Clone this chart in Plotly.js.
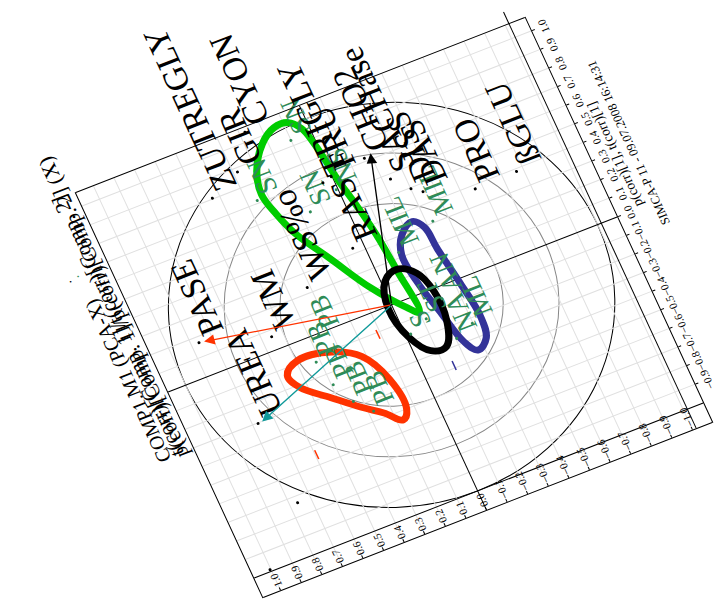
<!DOCTYPE html>
<html>
<head>
<meta charset="utf-8">
<script src="https://cdn.plot.ly/plotly-3.0.1.min.js"></script>
<style>
html,body{margin:0;padding:0;background:#fff;width:727px;height:601px;overflow:hidden;}
#plot{position:absolute;left:0;top:0;width:800px;height:672px;transform-origin:0 0;
transform:matrix(-0.4202,-0.9079,0.9315,-0.3631,203.47,705.94);}
</style>
</head>
<body>
<div id="plot"></div>
<script>
// variables p(corr) (black labels)
const varLabels = ['PASE','UREA','WM','WS%o','RAS','FRU','CHO2','PRO','ßGLU','ZUTREGLY','GIR','CYON','TRIGLY','SACHase','DISS','DAS'];
const varX = [0.170,-0.303,0.068,0.229,0.327,0.691,0.716,0.380,0.386,0.804,0.879,1.047,0.678,0.575,0.495,0.460];
const varY = [0.864,0.775,0.554,0.314,0.052,0.004,-0.167,-0.565,-0.768,0.534,0.381,0.274,0.050,-0.235,-0.301,-0.345];
// unlabelled variable points
const dotX = [-0.734,-0.990];
const dotY = [0.763,1.004];
// observations t(corr) (green labels)
const obsLabels = ['SN','SN','SN','NS','PB','PB','PB','PB','PB','S','ST','MIL','MIL','AN','ML','NA'];
const obsX = [0.928,0.714,0.568,0.623,-0.127,-0.260,-0.372,-0.452,-0.009,-0.167,-0.125,0.226,0.308,-0.062,-0.227,-0.268];
const obsY = [0.101,0.354,0.157,0.008,0.419,0.392,0.341,0.276,0.358,-0.023,-0.116,-0.129,-0.329,-0.219,-0.297,-0.204];
// small dash marks
const dashX = [-0.549,-0.387,-0.110,1.101];
const dashY = [0.593,-0.142,0.112,-0.149];
const dashColors = ['#ff3300','#333399','#ff3300','#00cc00'];
// correlation circles
const circleRadii = [1.0, 0.75, 0.5];
const circleColors = ['#000000','#888888','#888888'];
// hand drawn group loops
const greenLoopX = [-0.082,0.153,0.346,0.516,0.660,0.869,0.964,1.014,1.016,0.963,0.846,0.734,0.617,0.500,0.321,0.116,-0.036,-0.082];
const greenLoopY = [-0.100,-0.087,-0.071,-0.045,-0.018,0.011,0.035,0.078,0.147,0.225,0.301,0.325,0.301,0.262,0.165,0.054,-0.055,-0.100];
const blueLoopX = [0.343,0.302,0.212,0.064,-0.129,-0.294,-0.359,-0.319,-0.210,-0.026,0.173,0.295,0.343];
const blueLoopY = [-0.244,-0.177,-0.137,-0.148,-0.189,-0.227,-0.269,-0.326,-0.344,-0.324,-0.295,-0.283,-0.244];
const blackLoopX = [0.153,0.118,-0.015,-0.177,-0.278,-0.287,-0.170,-0.012,0.100,0.153];
const blackLoopY = [-0.087,-0.017,0.021,-0.009,-0.074,-0.146,-0.197,-0.200,-0.164,-0.087];
const redLoopX = [-0.136,-0.086,-0.108,-0.183,-0.334,-0.500,-0.544,-0.479,-0.413,-0.315,-0.211,-0.136];
const redLoopY = [0.563,0.491,0.336,0.219,0.150,0.136,0.171,0.237,0.319,0.426,0.536,0.563];
// arrows from the origin
const arrowX = [0.166,-0.301,0.728];
const arrowY = [0.841,0.754,-0.202];
const arrowColors = ['#ff3300','#109a9a','#000000'];
const xRange = [-1.102, 1.07];
const yRange = [-1.095, 1.085];
// inner axis lines
const innerYLineX = -1.0;
const innerXLineY = -1.018;

const serif = 'Liberation Serif, Times New Roman, serif';
const traces = [];
const loop = (x,y,c) => ({x:x,y:y,mode:'lines',line:{color:c,width:7,shape:'spline',smoothing:1.1},hoverinfo:'skip',showlegend:false,cliponaxis:false});
traces.push(loop(greenLoopX,greenLoopY,'#00cc00'));
traces.push(loop(blueLoopX,blueLoopY,'#333399'));
traces.push(loop(blackLoopX,blackLoopY,'#000000'));
traces.push(loop(redLoopX,redLoopY,'#ff3300'));
traces.push({x:dashX,y:dashY,mode:'markers',marker:{symbol:'line-ew',size:7,line:{width:1.5,color:dashColors}},showlegend:false,cliponaxis:false});
traces.push({x:dotX,y:dotY,mode:'markers',marker:{size:3,color:'#000'},showlegend:false,cliponaxis:false});
traces.push({x:obsX,y:obsY,text:obsLabels,mode:'markers+text',textposition:'bottom right',cliponaxis:false,
  marker:{size:3,color:'#2e8b57'},textfont:{family:serif,size:28,color:'#2e8b57'},showlegend:false});
traces.push({x:varX,y:varY,text:varLabels,mode:'markers+text',textposition:'bottom right',cliponaxis:false,
  marker:{size:3,color:'#000'},textfont:{family:serif,size:34,color:'#000'},showlegend:false});

const shapes = circleRadii.map((r,i)=>({type:'circle',xref:'x',yref:'y',x0:-r,x1:r,y0:-r,y1:r,
  line:{color:circleColors[i],width:1},layer:'below'}));
shapes.push({type:'line',xref:'x',yref:'paper',x0:innerYLineX,x1:innerYLineX,y0:0,y1:1,line:{color:'#000',width:1}});
shapes.push({type:'line',xref:'paper',yref:'y',x0:0,x1:1.03,y0:innerXLineY,y1:innerXLineY,line:{color:'#000',width:1}});
const annotations = arrowX.map((x,i)=>({x:x,y:arrowY[i],ax:0,ay:0,xref:'x',yref:'y',axref:'x',ayref:'y',
  text:'',showarrow:true,arrowhead:2,arrowsize:1.6,arrowwidth:1.3,arrowcolor:arrowColors[i]}));
const note = (x,y,t,size,anchor,color) => ({xref:'paper',yref:'paper',x:x,y:y,xanchor:anchor||'left',yanchor:'middle',
  showarrow:false,text:t,font:{family:serif,size:size,color:color||'#000'}});
annotations.push(note(0.36,1.066,'COMP1.M1 (PCA-X)',20));
annotations.push(note(0.355,1.029,'p(corr)[Comp. 1]/p(corr)[Comp. 2] (X)',21));
annotations.push(note(0.362,1.037,'t(corr)[Comp. 1]/t(corr)[Comp. 2]',21));
annotations.push(note(0.818,1.087,'•',7,'center'));
annotations.push(note(0.823,1.069,'•',7,'center','#2e8b57'));
annotations.push(note(0.64,-0.052,'p(corr)[1], t(corr)[1]',14,'center'));
annotations.push(note(0.655,-0.088,'SIMCA-P 11 - 09.07.2008 16:14:31',12.5,'center'));

const axis = {dtick:0.1,tick0:0,tickformat:'.1f',showgrid:true,gridcolor:'#e0e0e0',gridwidth:1,
  zeroline:true,zerolinecolor:'#000',zerolinewidth:1,showline:true,mirror:true,linecolor:'#000',linewidth:1,
  ticklen:3,tickcolor:'#000',tickangle:0,tickfont:{family:serif,size:11,color:'#000'},fixedrange:true};
const layout = {width:800,height:672,margin:{l:80,r:275,t:100,b:90},paper_bgcolor:'rgba(0,0,0,0)',plot_bgcolor:'#fff',
  xaxis:Object.assign({},axis,{range:xRange,ticks:'outside'}),
  yaxis:Object.assign({},axis,{range:yRange,ticks:'inside',ticklabelposition:'inside'}),
  shapes:shapes,annotations:annotations,showlegend:false,font:{family:serif}};
Plotly.newPlot('plot',traces,layout,{staticPlot:true,displayModeBar:false});
</script>
</body>
</html>
